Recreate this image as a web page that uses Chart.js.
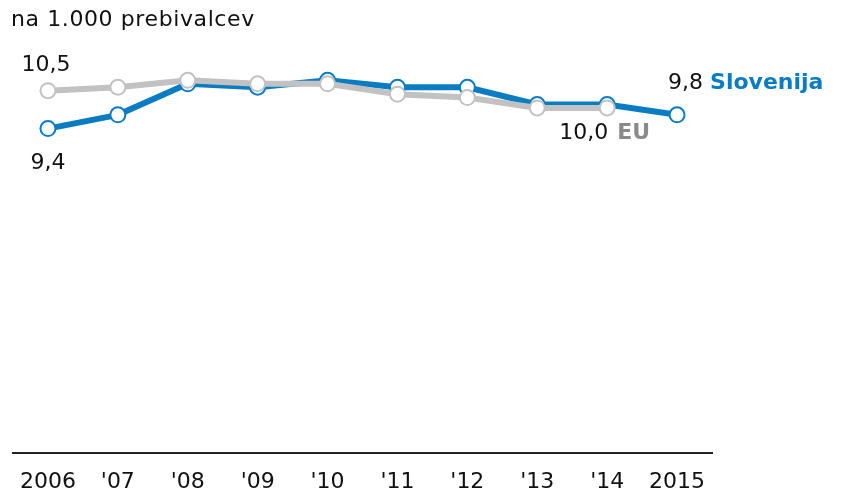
<!DOCTYPE html>
<html>
<head>
<meta charset="utf-8">
<script src="https://cdn.jsdelivr.net/npm/chart.js@4"></script>
<style>
  html, body { margin: 0; padding: 0; background: #fff; }
  #wrap { width: 845px; height: 492px; position: relative; }
</style>
</head>
<body>
<div id="wrap"><canvas id="myChart" width="845" height="492"></canvas></div>
<script>
const years = ['2006', "'07", "'08", "'09", "'10", "'11", "'12", "'13", "'14", '2015'];
const slovenija = [9.4, 9.8, 10.7, 10.6, 10.8, 10.6, 10.6, 10.1, 10.1, 9.8];
const eu = [10.5, 10.6, 10.8, 10.7, 10.7, 10.4, 10.3, 10.0, 10.0, null];

const BLUE = '#0a7cc2';
const GREY = '#c2c2c2';
const FONT = '"DejaVu Sans", sans-serif';

// title and value labels at line ends
const endLabels = {
  id: 'endLabels',
  afterDatasetsDraw(chart) {
    const c = chart.ctx;
    const x = chart.scales.x, y = chart.scales.y;
    c.save();
    c.textBaseline = 'middle';
    c.fillStyle = '#111';
    c.textAlign = 'left';
    c.font = '22px ' + FONT;
    c.letterSpacing = '0.6px';
    c.fillText('na 1.000 prebivalcev', 11, 20);
    c.letterSpacing = '0px';
    // start values
    c.textAlign = 'center';
    c.fillText('10,5', x.getPixelForValue(0) - 2, y.getPixelForValue(eu[0]) - 25);
    c.fillText('9,4', x.getPixelForValue(0), y.getPixelForValue(slovenija[0]) + 35);
    // Slovenija end
    const sx = x.getPixelForValue(9), sy = y.getPixelForValue(slovenija[9]);
    c.textAlign = 'left';
    c.fillText('9,8', sx - 9, sy - 32);
    c.font = 'bold 22px ' + FONT;
    c.fillStyle = BLUE;
    c.fillText('Slovenija', sx + 33, sy - 32);
    // EU end
    const ex = x.getPixelForValue(8), ey = y.getPixelForValue(eu[8]);
    c.font = '22px ' + FONT;
    c.fillStyle = '#111';
    c.fillText('10,0', ex - 48, ey + 25);
    c.font = 'bold 22px ' + FONT;
    c.fillStyle = '#8a8a8a';
    c.fillText('EU', ex + 10, ey + 25);
    c.restore();
  }
};

const ctx = document.getElementById('myChart').getContext('2d');
const myChart = new Chart(ctx, {
  type: 'line',
  data: {
    labels: years,
    datasets: [
      {
        label: 'EU',
        data: eu,
        borderColor: GREY,
        borderWidth: 6,
        pointRadius: 7.5,
        pointBorderWidth: 2,
        pointBackgroundColor: '#fff',
        pointBorderColor: GREY,
        tension: 0
      },
      {
        label: 'Slovenija',
        data: slovenija,
        borderColor: BLUE,
        borderWidth: 6,
        pointRadius: 7.5,
        pointBorderWidth: 2,
        pointBackgroundColor: '#fff',
        pointBorderColor: BLUE,
        tension: 0
      }
    ]
  },
  options: {
    responsive: false,
    animation: false,
    layout: { padding: { left: 13, right: 133, top: 39, bottom: -19 } },
    plugins: {
      legend: { display: false },
      tooltip: { enabled: false }
    },
    scales: {
      x: {
        offset: true,
        grid: { display: false, drawTicks: false },
        border: { display: true, color: '#222', width: 2 },
        ticks: {
          color: '#111',
          font: { family: FONT, size: 22 },
          padding: 16,
          maxRotation: 0,
          autoSkip: false
        }
      },
      y: {
        display: false,
        min: 0,
        max: 12
      }
    }
  },
  plugins: [endLabels]
});
</script>
</body>
</html>
